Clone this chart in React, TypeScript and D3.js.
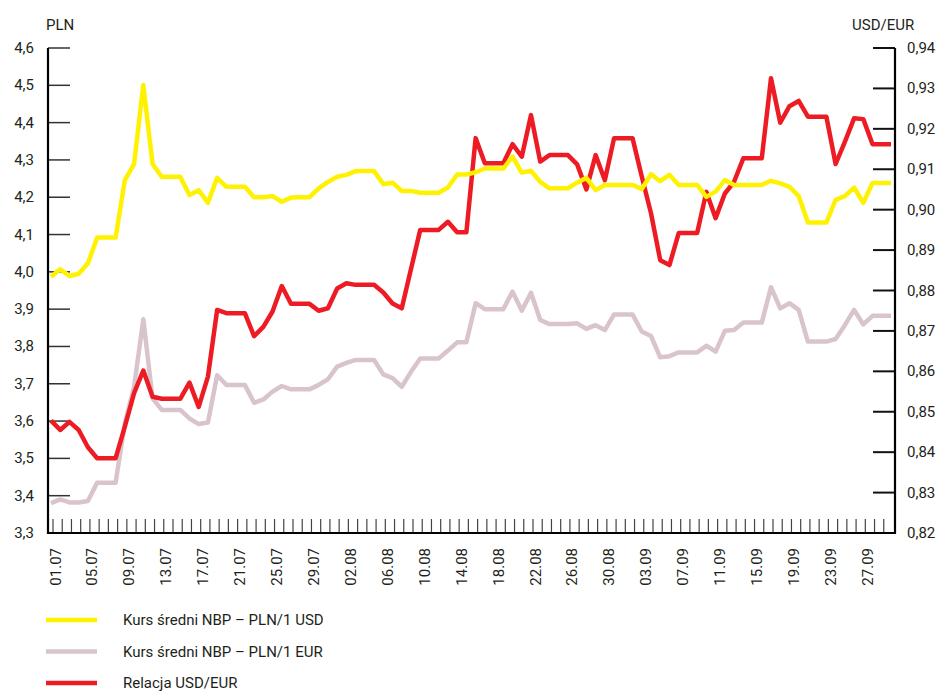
import React, { useEffect } from "react";
import * as d3 from "d3";

// daily values 01.07 - 30.09 (calendar days, weekends repeat last fixing)
const usdPln = [
  3.987, 4.007, 3.989, 3.995, 4.023, 4.092, 4.092, 4.092, 4.246, 4.289,
  4.501, 4.289, 4.255, 4.255, 4.255, 4.206, 4.219, 4.185, 4.252, 4.228,
  4.228, 4.228, 4.2, 4.2, 4.203, 4.188, 4.199, 4.2, 4.2, 4.224,
  4.241, 4.255, 4.26, 4.27, 4.27, 4.27, 4.235, 4.239, 4.217, 4.217,
  4.212, 4.212, 4.212, 4.226, 4.261, 4.261, 4.267, 4.277, 4.277, 4.277,
  4.309, 4.266, 4.271, 4.241, 4.224, 4.224, 4.224, 4.239, 4.252, 4.219,
  4.233, 4.233, 4.233, 4.233, 4.222, 4.262, 4.243, 4.26, 4.233, 4.233,
  4.233, 4.201, 4.215, 4.246, 4.233, 4.233, 4.233, 4.233, 4.244, 4.237,
  4.228, 4.203, 4.132, 4.132, 4.132, 4.193, 4.203, 4.226, 4.185, 4.238,
  4.238, 4.238,
];

const eurPln = [
  3.38, 3.39, 3.382, 3.382, 3.386, 3.435, 3.435, 3.435, 3.594, 3.692,
  3.873, 3.661, 3.63, 3.63, 3.63, 3.607, 3.592, 3.596, 3.723, 3.697,
  3.697, 3.697, 3.649, 3.658, 3.679, 3.694, 3.685, 3.685, 3.685, 3.697,
  3.712, 3.746, 3.756, 3.764, 3.764, 3.764, 3.725, 3.715, 3.692, 3.732,
  3.768, 3.768, 3.768, 3.789, 3.811, 3.811, 3.916, 3.9, 3.9, 3.9,
  3.947, 3.896, 3.944, 3.871, 3.86, 3.86, 3.86, 3.862, 3.847, 3.857,
  3.844, 3.886, 3.886, 3.886, 3.84, 3.828, 3.771, 3.774, 3.784, 3.784,
  3.784, 3.802, 3.786, 3.842, 3.844, 3.864, 3.864, 3.864, 3.959, 3.902,
  3.916, 3.898, 3.813, 3.813, 3.813, 3.82, 3.857, 3.898, 3.859, 3.882,
  3.882, 3.882,
];

const usdEur = [
  0.8478, 0.8455, 0.8475, 0.8455, 0.8412, 0.8385, 0.8385, 0.8385, 0.8463, 0.8546,
  0.8602, 0.8537, 0.8532, 0.8532, 0.8532, 0.8572, 0.8512, 0.8587, 0.8752, 0.8744,
  0.8744, 0.8744, 0.8687, 0.871, 0.8748, 0.8811, 0.8767, 0.8767, 0.8767, 0.875,
  0.8756, 0.8805, 0.8818, 0.8814, 0.8814, 0.8814, 0.8795, 0.8768, 0.8756, 0.8853,
  0.895, 0.895, 0.895, 0.897, 0.8944, 0.8944, 0.9177, 0.9115, 0.9115, 0.9115,
  0.9162, 0.9131, 0.9234, 0.9119, 0.9135, 0.9135, 0.9135, 0.9112, 0.905, 0.9135,
  0.9073, 0.9177, 0.9177, 0.9177, 0.9082, 0.8991, 0.8875, 0.8863, 0.8942, 0.8942,
  0.8942, 0.9044, 0.8979, 0.904, 0.9069, 0.9127, 0.9127, 0.9127, 0.9325, 0.9215,
  0.9256, 0.9269, 0.923, 0.923, 0.923, 0.9113, 0.9168, 0.9226, 0.9224, 0.9162,
  0.9162, 0.9162,
];

const dateLabels = [
  "01.07", "05.07", "09.07", "13.07", "17.07", "21.07", "25.07", "29.07",
  "02.08", "06.08", "10.08", "14.08", "18.08", "22.08", "26.08", "30.08",
  "03.09", "07.09", "11.09", "15.09", "19.09", "23.09", "27.09",
];
const labelStep = 4; // a label every 4 days

const plnTicks = [3.3, 3.4, 3.5, 3.6, 3.7, 3.8, 3.9, 4.0, 4.1, 4.2, 4.3, 4.4, 4.5, 4.6];
const ratioTicks = [0.82, 0.83, 0.84, 0.85, 0.86, 0.87, 0.88, 0.89, 0.9, 0.91, 0.92, 0.93, 0.94];

const legendItems = [
  { label: "Kurs średni NBP – PLN/1 USD", color: "#FFF200" },
  { label: "Kurs średni NBP – PLN/1 EUR", color: "#D9C4CD" },
  { label: "Relacja USD/EUR", color: "#ED1C24" },
];

const pl = d3.formatLocale({ decimal: ",", thousands: " ", grouping: [3], currency: ["", " zł"] });
const fmt1 = pl.format(".1f");
const fmt2 = pl.format(".2f");

export default function App() {
  useEffect(() => {
    document.body.style.margin = "0";
  }, []);

  const width = 942,
    height = 691;
  const left = 48,
    right = 895,
    top = 48,
    bottom = 533;

  const x = d3.scaleLinear().domain([0, usdPln.length - 1]).range([51, 891]);
  const yPln = d3.scaleLinear().domain([3.3, 4.6]).range([bottom, top]);
  const yRatio = d3.scaleLinear().domain([0.82, 0.94]).range([bottom, top]);

  const linePln = d3
    .line<number>()
    .x((d, i) => x(i))
    .y((d) => yPln(d));
  const lineRatio = d3
    .line<number>()
    .x((d, i) => x(i))
    .y((d) => yRatio(d));

  const font = "Roboto, 'Open Sans', sans-serif";
  const txt = "#231F20";
  const days = d3.range(usdPln.length - 1);

  return (
    <svg width={width} height={height} style={{ display: "block" }} fontFamily={font}>
      <rect width={width} height={height} fill="#fff" />

      {/* axis titles */}
      <text x={46} y={30} fontSize={15} fill={txt}>PLN</text>
      <text x={852} y={30} fontSize={15} fill={txt}>USD/EUR</text>

      {/* left ticks */}
      {plnTicks.map((t) => (
        <g key={"l" + t}>
          <line x1={left} x2={70} y1={yPln(t)} y2={yPln(t)} stroke="#333" strokeWidth={1.5} />
          <text x={34} y={yPln(t)} fontSize={15} fill={txt} textAnchor="end" dominantBaseline="central">
            {fmt1(t)}
          </text>
        </g>
      ))}

      {/* right ticks */}
      {ratioTicks.map((t) => (
        <g key={"r" + t}>
          <line x1={873} x2={right} y1={yRatio(t)} y2={yRatio(t)} stroke="#111" strokeWidth={2} />
          <text x={907} y={yRatio(t)} fontSize={15} fill={txt} dominantBaseline="central">
            {fmt2(t)}
          </text>
        </g>
      ))}

      {/* daily ticks */}
      {days.map((d) => (
        <line key={"x" + d} x1={x(d) + 2} x2={x(d) + 2} y1={bottom} y2={bottom - 14} stroke="#444" strokeWidth={1.2} />
      ))}
      {dateLabels.map((lab, i) => (
        <text
          key={lab}
          transform={`translate(${x(i * labelStep) + 4.5},548) rotate(-90)`}
          fontSize={15}
          fill={txt}
          textAnchor="end"
          dominantBaseline="central"
        >
          {lab}
        </text>
      ))}

      {/* frame */}
      <line x1={left} x2={left} y1={top} y2={bottom + 1} stroke="#000" strokeWidth={2.2} />
      <line x1={right} x2={right} y1={top} y2={bottom + 1} stroke="#000" strokeWidth={2.2} />
      <line x1={left - 1} x2={right + 1} y1={bottom} y2={bottom} stroke="#000" strokeWidth={2.2} />

      {/* series */}
      <path d={linePln(eurPln) || ""} fill="none" stroke={legendItems[1].color} strokeWidth={4.5} strokeLinejoin="round" />
      <path d={lineRatio(usdEur) || ""} fill="none" stroke={legendItems[2].color} strokeWidth={4.5} strokeLinejoin="round" />
      <path d={linePln(usdPln) || ""} fill="none" stroke={legendItems[0].color} strokeWidth={4.5} strokeLinejoin="round" />

      {/* legend */}
      {legendItems.map((it, i) => (
        <g key={it.label} transform={`translate(0,${620 + i * 31.5})`}>
          <line x1={46} x2={97} y1={0} y2={0} stroke={it.color} strokeWidth={4.5} />
          <text x={123} y={0} fontSize={15} fill={txt} dominantBaseline="central">
            {it.label}
          </text>
        </g>
      ))}
    </svg>
  );
}
